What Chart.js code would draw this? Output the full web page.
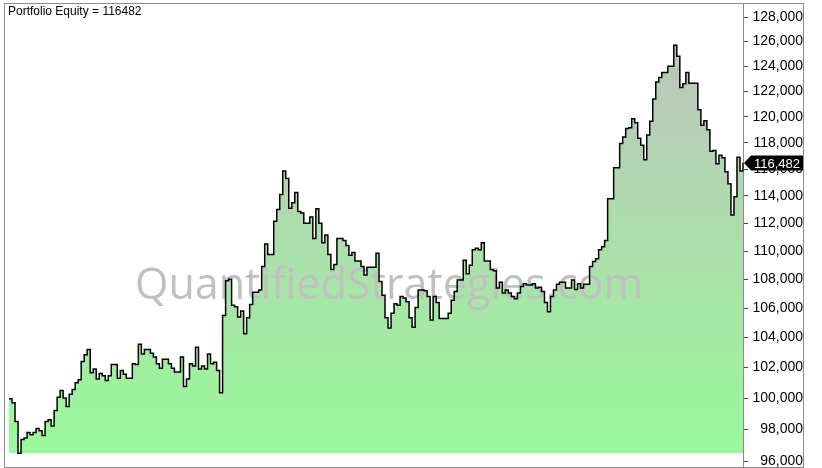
<!DOCTYPE html>
<html>
<head>
<meta charset="utf-8">
<script src="https://cdn.jsdelivr.net/npm/chart.js@4.4.1/dist/chart.umd.min.js"></script>
<style>
  html, body { margin: 0; padding: 0; background: #fff; }
</style>
</head>
<body>
<canvas id="equityChart" width="822" height="468"></canvas>
<script>
// Portfolio equity, one value per bar
const titleText = 'Portfolio Equity = 116482';
const watermarkText = 'QuantifiedStrategies.com';

const yTicks = [96000, 98000, 100000, 102000, 104000, 106000, 108000, 110000,
    112000, 114000, 116000, 118000, 120000, 122000, 124000, 126000, 128000];

const equity = [
    99950, 99700, 98500, 96480, 97350, 97450, 97800, 97650, 97800, 98050,
    97900, 97600, 98500, 98600, 98200, 99200, 100050, 100500, 100000, 99450,
    100250, 100550, 101000, 101200, 102400, 102850, 103200, 101650, 101900, 101250,
    101600, 101450, 101150, 101450, 102200, 102200, 101300, 101800, 101550, 101300,
    101300, 102250, 102200, 103550, 102900, 103200, 103200, 102950, 102700, 102250,
    101950, 102550, 102550, 102250, 101950, 101700, 101700, 102700, 100750, 101250,
    102250, 102100, 103350, 101900, 102100, 101900, 102900, 102250, 102350, 101800,
    100350, 105500, 107900, 108000, 106200, 106100, 105400, 105800, 104250, 105350,
    106250, 107100, 107100, 107250, 108900, 110500, 109750, 109750, 112150, 113000,
    114100, 115850, 115300, 113100, 113500, 114250, 112850, 112750, 112000, 112000,
    112450, 110900, 113050, 112000, 110600, 111150, 109750, 108700, 109050, 110900,
    110900, 110750, 110400, 109700, 109900, 109300, 109300, 108900, 108300, 108850,
    108850, 108850, 109850, 107850, 106900, 105350, 104650, 105650, 106300, 106200,
    106800, 106700, 106450, 105350, 104700, 106050, 107250, 107250, 107200, 106800,
    105200, 106800, 106400, 105300, 105300, 105300, 105650, 106550, 107150, 107950,
    107950, 109350, 108400, 109000, 110100, 110200, 110100, 110600, 109300, 109300,
    108700, 108600, 107400, 107800, 107050, 107250, 107050, 106800, 106650, 107050,
    107500, 107700, 107600, 107600, 107700, 107400, 107450, 107150, 106400, 105750,
    106800, 107250, 107650, 107800, 107800, 107400, 107400, 107950, 107300, 107700,
    107400, 107650, 107650, 108900, 109250, 109450, 110100, 110300, 110750, 113800,
    113800, 116100, 116100, 117950, 118450, 119100, 119150, 119850, 119550, 118350,
    117800, 116700, 118600, 119650, 121400, 122750, 123100, 123500, 123500, 124000,
    124000, 125700, 124800, 122300, 122600, 123500, 122650, 122650, 122650, 120550,
    119350, 119700, 119000, 117350, 117400, 116400, 117050, 116850, 115800, 114900,
    112600, 113950, 116900, 115850, 116482
];

const bars = equity.map((v, i) => i + 1);

const fmt = v => Number(v).toLocaleString('en-US');

// frame, title, watermark and last-value marker
const decor = {
    id: 'decor',
    beforeDatasetsDraw(chart) {
        const ctx = chart.ctx;
        ctx.save();
        ctx.font = '43px "Open Sans"';
        ctx.fillStyle = '#c0c0c0';
        ctx.textBaseline = 'alphabetic';
        ctx.fillText(watermarkText, 135, 299);
        ctx.restore();
    },
    afterDraw(chart) {
        const ctx = chart.ctx;
        const area = chart.chartArea;
        const y = chart.scales.y;
        ctx.save();
        ctx.strokeStyle = '#8c8c8c';
        ctx.lineWidth = 1;
        ctx.strokeRect(area.left - 4.5, area.top + 0.5, y.right - area.left + 5, area.bottom - area.top);

        ctx.font = '12px "Liberation Sans"';
        ctx.fillStyle = '#000';
        ctx.textAlign = 'left';
        ctx.textBaseline = 'alphabetic';
        ctx.fillText(titleText, 8, 15);

        const last = equity[equity.length - 1];
        const py = Math.round(y.getPixelForValue(last));
        const x0 = area.right + 1;
        ctx.fillStyle = '#000';
        ctx.beginPath();
        ctx.moveTo(x0, py);
        ctx.lineTo(x0 + 7, py - 7.5);
        ctx.lineTo(y.right, py - 7.5);
        ctx.lineTo(y.right, py + 7.5);
        ctx.lineTo(x0 + 7, py + 7.5);
        ctx.closePath();
        ctx.fill();
        ctx.fillStyle = '#fff';
        ctx.font = '13px "Liberation Sans"';
        ctx.textAlign = 'right';
        ctx.textBaseline = 'middle';
        ctx.fillText(fmt(last), y.right - 3, py + 1);
        ctx.restore();
    }
};

function areaGradient(context) {
    const chart = context.chart;
    const a = chart.chartArea;
    if (!a) return '#98fb98';
    const g = chart.ctx.createLinearGradient(0, a.bottom, 0, a.top);
    g.addColorStop(0, '#98fb98');
    g.addColorStop(1, '#c0c0c0');
    return g;
}

new Chart(document.getElementById('equityChart').getContext('2d'), {
    type: 'line',
    data: {
        labels: bars,
        datasets: [{
            data: equity,
            stepped: true,
            borderColor: '#000',
            borderWidth: 1.5,
            borderJoinStyle: 'miter',
            pointRadius: 0,
            fill: { value: 96480 },
            backgroundColor: areaGradient
        }]
    },
    options: {
        responsive: false,
        animation: false,
        devicePixelRatio: 1,
        layout: { padding: { left: 9, top: 3, right: 19, bottom: 1 } },
        plugins: {
            legend: { display: false },
            tooltip: { enabled: false },
            filler: { drawTime: 'beforeDatasetsDraw' }
        },
        scales: {
            x: { type: 'category', display: false, offset: false },
            y: {
                type: 'logarithmic',
                position: 'right',
                min: 95630,
                max: 129190,
                bounds: 'data',
                afterBuildTicks: s => { s.ticks = yTicks.map(v => ({ value: v })); },
                afterFit: s => { s.width = 60; s.paddingTop = 0; s.paddingBottom = 0; },
                grid: { drawOnChartArea: false, tickLength: 5, color: '#444' },
                border: { color: '#8c8c8c' },
                ticks: {
                    font: { family: 'Liberation Sans', size: 14 },
                    color: '#000',
                    padding: 1,
                    crossAlign: 'far',
                    autoSkip: false,
                    callback: v => fmt(v)
                }
            }
        }
    },
    plugins: [decor]
});
</script>
</body>
</html>
